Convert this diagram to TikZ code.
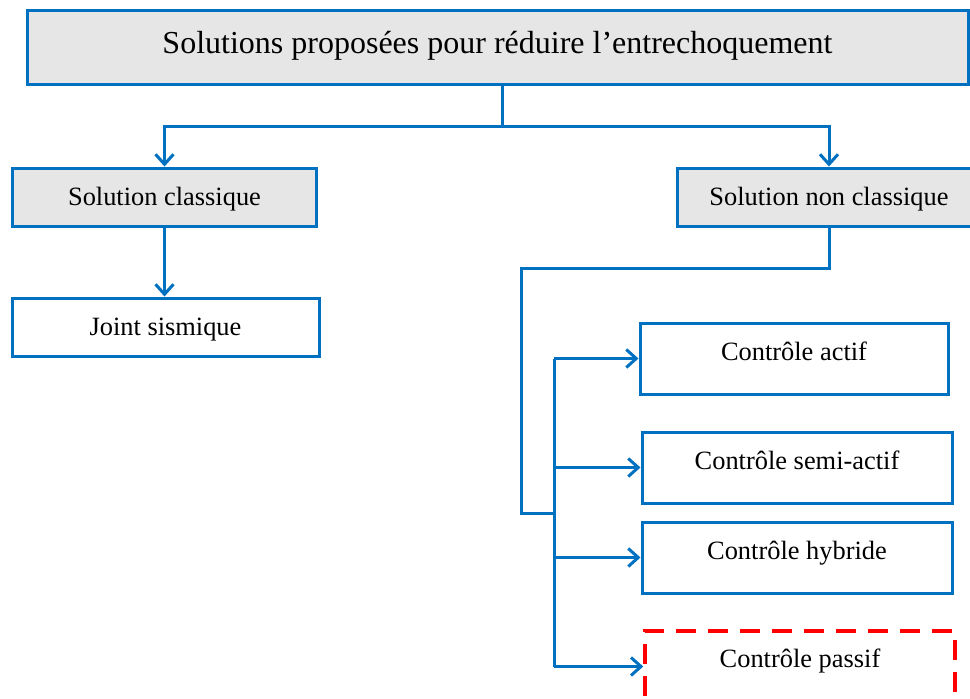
\documentclass[tikz,border=0pt]{standalone}
\usepackage{fontspec}
\setmainfont{Liberation Serif}
\definecolor{linkblue}{RGB}{0,112,192}
\definecolor{headgray}{RGB}{231,230,230}
\definecolor{passred}{RGB}{255,0,0}
\usetikzlibrary{arrows.meta, calc}
\tikzset{
    box/.style={
        rectangle, draw=#1, line width=1.5pt, inner sep=0pt,
        minimum width=152pt, minimum height=29pt,
        font=\fontsize{13.2}{15}\selectfont, text=black,
        text height=9.2pt, text depth=1pt, align=center
    },
    box/.default=linkblue,
    titlebox/.style={
        box, fill=headgray, minimum width=470.5pt, minimum height=37pt,
        font=\fontsize{16}{19}\selectfont, text height=11.2pt, text depth=5pt
    },
    headbox/.style={box, fill=headgray},
    leafbox/.style={box, fill=white, minimum width=153.5pt},
    ctrlbox/.style={
        box=#1, fill=white, minimum width=155pt, minimum height=35.5pt,
        text depth=7.5pt
    },
    ctrlbox/.default=linkblue,
    arrow/.style={-{Straight Barb[length=5pt, width=9pt, line width=1.5pt]}, line width=1.5pt, draw=linkblue},
    link/.style={line width=1.5pt, draw=linkblue}
}

\begin{document}
\begin{tikzpicture}[x=0.5pt, y=-0.5pt]
    \useasboundingbox (0,0) rectangle (970,698);
    \clip (0,0) rectangle (970,698);

    % Top of the tree
    \node[titlebox] (title) at (497.5,47) {Solutions proposées pour réduire l’entrechoquement};

    % Two families
    \node[headbox] (classique) at (164.5,197) {Solution classique};
    \node[headbox] (nonclassique) at (829,197) {Solution non classique};

    \node[leafbox] (joint) at (165.5,327) {Joint sismique};

    % Control strategies
    \node[ctrlbox, minimum width=154pt] (actif) at (794,358.5) {Contrôle actif};
    \node[ctrlbox] (semiactif) at (797,467.5) {Contrôle semi-actif};
    \node[ctrlbox] (hybride) at (797,557.5) {Contrôle hybride};
    \node[ctrlbox=passred, dashed, line width=1.75pt, dash pattern=on 10pt off 6pt, text depth=8.5pt] (passif) at (800,666.5) {Contrôle passif};

    % Junction points
    \coordinate (split) at (502,126);
    \coordinate (elbow) at (521,268);
    \coordinate (feed) at (554,513);

    % Arrows
    \draw[link] (title.south -| split) -- (split);
    \draw[arrow] (split) -| (classique.north);
    \draw[arrow] (split) -| (nonclassique.north);
    \draw[arrow] (classique.south) -- (classique.south |- joint.north);

    \draw[link] (nonclassique.south) |- (elbow) |- (feed);
    \draw[link] (actif.west -| feed) -- (passif.west -| feed);
    \draw[arrow] (actif.west -| feed) -- (actif.west);
    \draw[arrow] (semiactif.west -| feed) -- (semiactif.west);
    \draw[arrow] (hybride.west -| feed) -- (hybride.west);
    \draw[arrow] (passif.west -| feed) -- (passif.west);

\end{tikzpicture}
\end{document}
